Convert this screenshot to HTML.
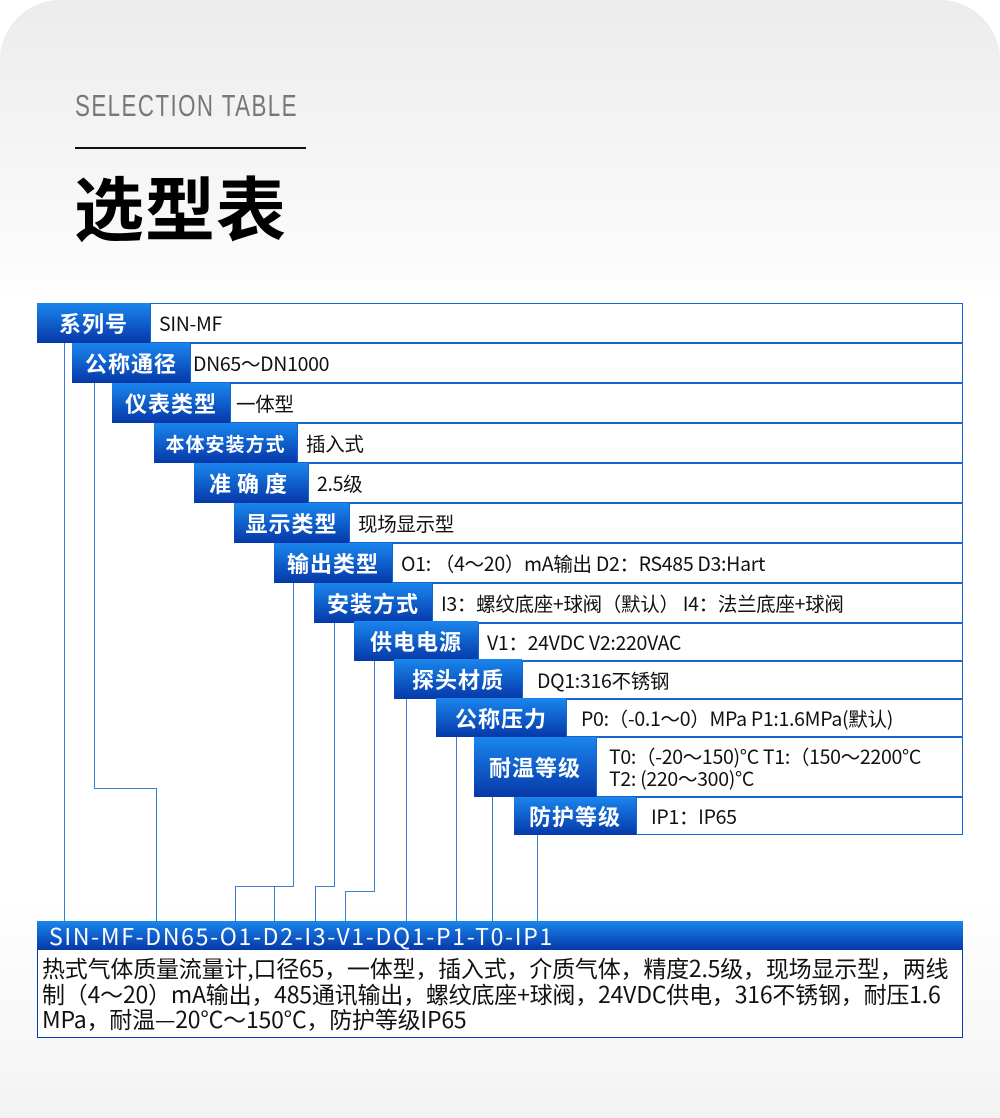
<!DOCTYPE html>
<html><head><meta charset="utf-8"><style>
*{margin:0;padding:0;box-sizing:border-box}
body{width:1000px;height:1118px;background:#fff;position:relative;overflow:hidden;font-family:"Noto Sans CJK SC","Liberation Sans",sans-serif}
.card{position:absolute;left:0;top:0;width:1000px;height:1118px;border-radius:60px 60px 0 0;background:linear-gradient(#ececec 0px,#fbfbfb 260px,#fff 300px,#fff 900px,#f3f3f3 1118px)}
.lab{position:absolute;color:#fff;font-weight:bold;font-size:22px;display:flex;align-items:center;justify-content:center;background:linear-gradient(#1a86ee,#0638a8);letter-spacing:1px}
.val{position:absolute;right:37px;background:#fff;border:1px solid #1565d0;font-size:19.5px;color:#111;display:flex;align-items:center;padding-left:8px;line-height:22px;white-space:nowrap;letter-spacing:-0.3px}
.v{position:absolute;width:1px;background:#3a7fd6}
.h{position:absolute;height:1px;background:#3a7fd6}
</style></head><body>
<div class="card"></div>
<div style="position:absolute;left:75px;top:88px;width:300px;font-family:'Liberation Sans',sans-serif;font-size:31px;color:#777;letter-spacing:2px;transform:scaleX(0.72);transform-origin:left;white-space:nowrap">SELECTION TABLE</div>
<div style="position:absolute;left:75px;top:147px;width:231px;height:2px;background:#111"></div>
<div style="position:absolute;left:74px;top:162px;font-size:70px;color:#000;font-weight:bold;letter-spacing:1px;line-height:88px">选型表</div>

<div class="val" style="left:150px;top:303px;height:40px">SIN-MF</div>
<div class="lab" style="left:37px;top:303px;width:113px;height:40px">系列号</div>
<div class="val" style="left:190px;top:343px;height:40px;padding-left:2px">DN65～DN1000</div>
<div class="lab" style="left:72px;top:343px;width:118px;height:40px">公称通径</div>
<div class="val" style="left:230px;top:383px;height:40px;padding-left:5px">一体型</div>
<div class="lab" style="left:112px;top:383px;width:118px;height:40px">仪表类型</div>
<div class="val" style="left:297px;top:423px;height:40px">插入式</div>
<div class="lab" style="left:154px;top:423px;width:143px;height:40px;font-size:19px">本体安装方式</div>
<div class="val" style="left:308px;top:463px;height:40px">2.5级</div>
<div class="lab" style="left:194px;top:463px;width:114px;height:40px;letter-spacing:6px">准确度</div>
<div class="val" style="left:349px;top:503px;height:40px">现场显示型</div>
<div class="lab" style="left:234px;top:503px;width:115px;height:40px">显示类型</div>
<div class="val" style="left:392px;top:543px;height:40px">O1: （4～20）mA输出 D2：RS485 D3:Hart</div>
<div class="lab" style="left:274px;top:543px;width:118px;height:40px">输出类型</div>
<div class="val" style="left:432px;top:583px;height:40px">I3：螺纹底座+球阀（默认） I4：法兰底座+球阀</div>
<div class="lab" style="left:314px;top:583px;width:118px;height:40px">安装方式</div>
<div class="val" style="left:478px;top:623px;height:38px">V1：24VDC V2:220VAC</div>
<div class="lab" style="left:354px;top:621px;width:124px;height:40px">供电电源</div>
<div class="val" style="left:522px;top:661px;height:38px;padding-left:14px">DQ1:316不锈钢</div>
<div class="lab" style="left:394px;top:659px;width:128px;height:40px">探头材质</div>
<div class="val" style="left:566px;top:699px;height:38px;padding-left:14px">P0:（-0.1～0）MPa P1:1.6MPa(默认)</div>
<div class="lab" style="left:436px;top:698px;width:130px;height:39px">公称压力</div>
<div class="val" style="left:596px;top:737px;height:60px;padding-left:12px;line-height:22px">T0:（-20～150)°C T1:（150～2200°C<br>T2: (220～300)°C</div>
<div class="lab" style="left:474px;top:737px;width:122px;height:60px">耐温等级</div>
<div class="val" style="left:636px;top:797px;height:38px;padding-left:14px">IP1：IP65</div>
<div class="lab" style="left:514px;top:797px;width:122px;height:38px">防护等级</div>

<div class="v" style="left:64px;top:343px;height:578px"></div>
<div class="v" style="left:94px;top:383px;height:406px"></div>
<div class="h" style="left:94px;top:788px;width:63px"></div>
<div class="v" style="left:156px;top:788px;height:133px"></div>
<div class="v" style="left:293px;top:583px;height:303px"></div>
<div class="h" style="left:235px;top:886px;width:59px"></div>
<div class="v" style="left:235px;top:886px;height:35px"></div>
<div class="v" style="left:274px;top:886px;height:35px"></div>
<div class="v" style="left:334px;top:623px;height:263px"></div>
<div class="h" style="left:315px;top:886px;width:20px"></div>
<div class="v" style="left:315px;top:886px;height:35px"></div>
<div class="v" style="left:374px;top:661px;height:230px"></div>
<div class="h" style="left:345px;top:891px;width:30px"></div>
<div class="v" style="left:345px;top:891px;height:30px"></div>
<div class="v" style="left:406px;top:699px;height:222px"></div>
<div class="v" style="left:456px;top:737px;height:184px"></div>
<div class="v" style="left:492px;top:797px;height:124px"></div>
<div class="v" style="left:537px;top:835px;height:86px"></div>

<div style="position:absolute;left:37px;top:921px;width:926px;height:29px;background:linear-gradient(#1a86ee,#0638a8);color:#fff;font-size:23px;line-height:29px;padding-left:12px;letter-spacing:1.7px;white-space:nowrap">SIN-MF-DN65-O1-D2-I3-V1-DQ1-P1-T0-IP1</div>
<div style="position:absolute;left:37px;top:950px;width:926px;height:88px;background:#fff;border:1px solid #0a3ab0;border-top:none;font-size:23px;line-height:25.5px;color:#111;padding:5px 4px 0 4px;white-space:nowrap;letter-spacing:-0.2px">热式气体质量流量计,口径65，一体型，插入式，介质气体，精度2.5级，现场显示型，两线<br>制（4～20）mA输出，485通讯输出，螺纹底座+球阀，24VDC供电，316不锈钢，耐压1.6<br>MPa，耐温—20°C～150°C，防护等级IP65</div>
</body></html>
